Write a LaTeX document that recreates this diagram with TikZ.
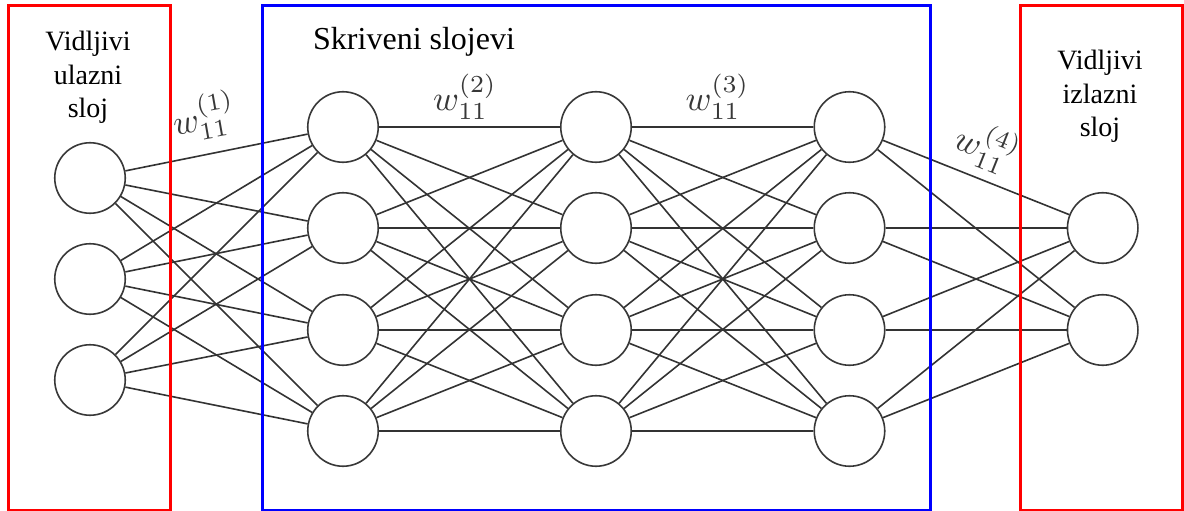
\documentclass[tikz,border=0pt]{standalone}
\usepackage{fontspec}
\setmainfont{Liberation Serif}
\begin{document}
\begin{tikzpicture}[x=1pt,y=-1pt,
  neuron/.style={circle, draw=black!78, line width=1.6pt, minimum size=70.5pt, inner sep=0pt, fill=white},
  conn/.style={draw=black!80, line width=1.6pt},
  lbl/.style={font=\fontsize{28}{33.5}\selectfont, align=center, inner sep=0pt},
  wlbl/.style={font=\normalsize, text=black!78, inner sep=0pt, scale=3.5},
  redbox/.style={draw=red, line width=3pt},
  bluebox/.style={draw=blue, line width=3pt}]
\useasboundingbox (0,0) rectangle (1184,511);
% input layer
\node[neuron] (i1) at (90,178) {};
\node[neuron] (i2) at (90,279) {};
\node[neuron] (i3) at (90,380) {};
% hidden layers
\foreach \l/\x in {a/343, b/596, c/849.5} {
  \node[neuron] (\l1) at (\x,127) {};
  \node[neuron] (\l2) at (\x,228) {};
  \node[neuron] (\l3) at (\x,330) {};
  \node[neuron] (\l4) at (\x,431) {};
}
% output layer
\node[neuron] (o1) at (1102.7,228) {};
\node[neuron] (o2) at (1102.7,330) {};
% connections
\foreach \s in {1,2,3} \foreach \t in {1,2,3,4} \draw[conn] (i\s) -- (a\t);
\foreach \s in {1,2,3,4} \foreach \t in {1,2,3,4} {
  \draw[conn] (a\s) -- (b\t);
  \draw[conn] (b\s) -- (c\t);
}
\foreach \s in {1,2,3,4} \foreach \t in {1,2} \draw[conn] (c\s) -- (o\t);
% boxes
\draw[redbox] (8.5,6) rectangle (170.5,510);
\draw[bluebox] (262,6) rectangle (930,510);
\draw[redbox] (1020.7,6) rectangle (1182,510);
% texts
\node[lbl, anchor=north] (tin) at (88,31) {Vidljivi\\ulazni\\sloj};
\node[lbl, anchor=north] (tout) at (1100,50) {Vidljivi\\izlazni\\sloj};
\node[anchor=base west, font=\fontsize{32}{38}\selectfont, inner sep=0pt] (thid) at (313,50) {Skriveni slojevi};
% weight labels
\node[wlbl, rotate=10] (w1) at (204,116.5) {$w_{11}^{(1)}$};
\node[wlbl] (w2) at (465,97) {$w_{11}^{(2)}$};
\node[wlbl] (w3) at (717.5,97) {$w_{11}^{(3)}$};
\node[wlbl, rotate=-21.8] (w4) at (987,147) {$w_{11}^{(4)}$};
\end{tikzpicture}
\end{document}
